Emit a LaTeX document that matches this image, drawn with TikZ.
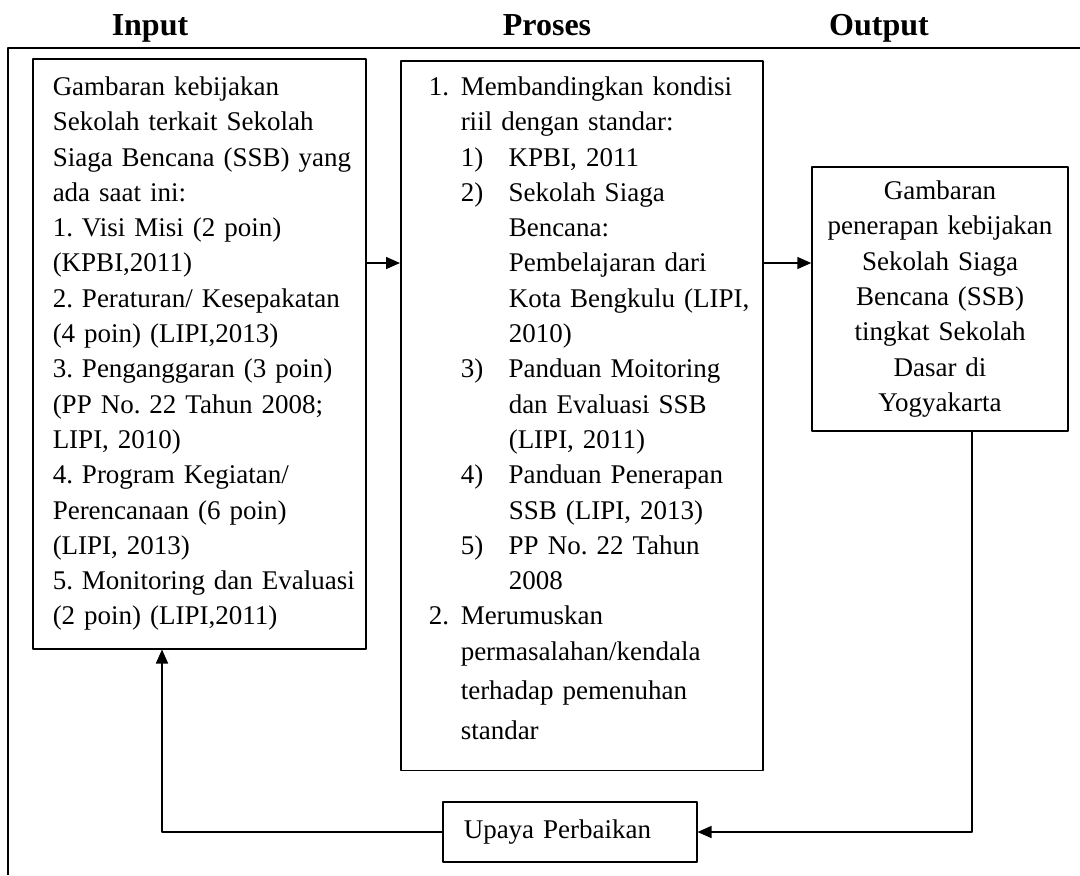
\documentclass[tikz,border=0pt]{standalone}
\usepackage{fontspec}
\setmainfont{Liberation Serif}
\usetikzlibrary{arrows.meta}
\hfuzz=30pt
\frenchspacing
\newcommand{\numA}[1]{\makebox[16pt][l]{#1}}
\newcommand{\numB}[1]{\makebox[24pt][l]{#1}}
\begin{document}
\begin{tikzpicture}[x=0.5pt, y=-0.5pt, line join=round,
		font=\fontsize{13.5}{17.65}\selectfont,
		box/.style={draw, line width=0.75pt, inner sep=0pt},
		head/.style={font=\fontsize{16}{19}\selectfont\bfseries, anchor=base},
		arr/.style={line width=0.75pt, -{Triangle[length=7pt,width=6pt]}}]
		\useasboundingbox (0,0) rectangle (1080,875);
		\path 
			(0,263) coordinate (lvl)
			(162,0) coordinate (fb)
			(972,0) coordinate (ret)
		;
		\node[head] (hin) at (150,35) {Input};
		\node[head] (hpr) at (547,35) {Proses};
		\node[head] (hout) at (879,35) {Output};
		\draw[line width=0.75pt] (1080,48)--(8,48)--(8,875);
		\node[box, anchor=north west, text width=146.5pt, inner xsep=10pt, inner ysep=9pt, align=left] (input) at (32,58) {%
			Gambaran kebijakan\\
			Sekolah terkait Sekolah\\
			\mbox{Siaga Bencana (SSB) yang}\\
			ada saat ini:\\
			1. Visi Misi (2 poin)\\
			(KPBI,2011)\\
			\mbox{2. Peraturan/ Kesepakatan}\\
			(4 poin) (LIPI,2013)\\
			3. Penganggaran (3 poin)\\
			(PP No. 22 Tahun 2008;\\
			LIPI, 2010)\\
			4. Program Kegiatan/\\
			Perencanaan (6 poin)\\
			(LIPI, 2013)\\
			\mbox{5. Monitoring dan Evaluasi}\\
			(2 poin) (LIPI,2011)};
		\node[box, anchor=north west, text width=153pt, inner xsep=14pt, inner ysep=8pt, align=left] (proses) at (400,60) {%
			\mbox{\numA{1.}Membandingkan kondisi}\\
			\hspace*{16pt}riil dengan standar:\\
			\hspace*{16pt}\numB{1)}KPBI, 2011\\
			\hspace*{16pt}\numB{2)}Sekolah Siaga\\
			\hspace*{40pt}Bencana:\\
			\hspace*{40pt}Pembelajaran dari\\
			\mbox{\hspace*{40pt}Kota Bengkulu (LIPI,}\\
			\hspace*{40pt}2010)\\
			\mbox{\hspace*{16pt}\numB{3)}Panduan Moitoring}\\
			\hspace*{40pt}dan Evaluasi SSB\\
			\hspace*{40pt}(LIPI, 2011)\\
			\mbox{\hspace*{16pt}\numB{4)}Panduan Penerapan}\\
			\hspace*{40pt}SSB (LIPI, 2013)\\
			\hspace*{16pt}\numB{5)}PP No. 22 Tahun\\
			\hspace*{40pt}2008\\
			\numA{2.}Merumuskan\\
			\mbox{\hspace*{16pt}permasalahan/kendala}\\[2.2pt]
			\hspace*{16pt}terhadap pemenuhan\\[2.2pt]
			\hspace*{16pt}standar\rule[-7.5pt]{0pt}{7.5pt}};
		\node[box, text width=116pt, inner xsep=6pt, inner ysep=7pt, align=center] (output) at (940,299) {%
			Gambaran\\
			\mbox{penerapan kebijakan}\\
			Sekolah Siaga\\
			Bencana (SSB)\\
			tingkat Sekolah\\
			Dasar di\\
			Yogyakarta};
		\node[box, anchor=west, minimum width=127pt, minimum height=30pt, inner xsep=10.5pt, text width=106pt, align=left] (upaya) at (442,832) {Upaya Perbaikan};
		\draw[arr] (input.east |- lvl) -- (proses.west |- lvl);
		\draw[arr] (proses.east |- lvl) -- (output.west |- lvl);
		\draw[arr] (output.south -| ret) |- (upaya.east);
		\draw[arr] (upaya.west) -| (fb |- input.south);
		\end{tikzpicture}
\end{document}
